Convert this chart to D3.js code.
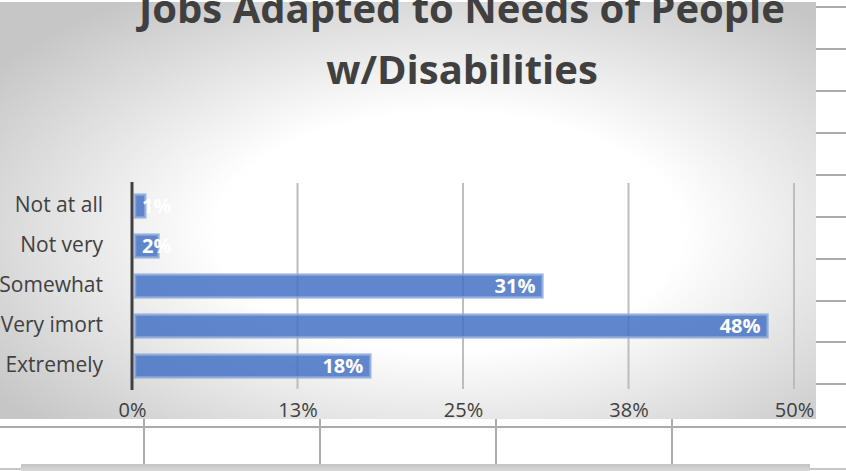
<!DOCTYPE html>
<html>
<head>
<meta charset="utf-8">
<script src="https://cdn.jsdelivr.net/npm/d3@7"></script>
<style>
  html, body { margin: 0; padding: 0; background: #ffffff; }
  svg { display: block; }
  text { font-family: "Open Sans", "Noto Sans", sans-serif; }
</style>
</head>
<body>
<svg id="chart" width="846" height="471"></svg>
<script>
// ---- data ----
const categories = ["Not at all", "Not very", "Somewhat", "Very imort", "Extremely"];
const values = [0.01, 0.02, 0.31, 0.48, 0.18];
const tickValues = [0, 0.125, 0.25, 0.375, 0.5];
const tickLabels = ["0%", "13%", "25%", "38%", "50%"];
const titleLines = ["Jobs Adapted to Needs of People", "w/Disabilities"];

const svg = d3.select("#chart");
const W = 846, H = 471;

// ---- spreadsheet grid behind the chart ----
const gridColor = "#ababab";
const sheetRows = [7, 49, 91, 133, 175, 217, 259, 301, 342, 384];
svg.selectAll("line.sheetRow").data(sheetRows).join("line")
  .attr("x1", 816).attr("x2", W).attr("y1", d => d).attr("y2", d => d)
  .attr("stroke", gridColor).attr("stroke-width", 2);
svg.append("line").attr("x1", 0).attr("x2", W).attr("y1", 427).attr("y2", 427)
  .attr("stroke", gridColor).attr("stroke-width", 2);
const sheetCols = [144, 320, 496, 672];
svg.selectAll("line.sheetCol").data(sheetCols).join("line")
  .attr("x1", d => d).attr("x2", d => d).attr("y1", 419).attr("y2", 465)
  .attr("stroke", gridColor).attr("stroke-width", 2);
svg.append("line").attr("x1", 0).attr("x2", W).attr("y1", 469).attr("y2", 469)
  .attr("stroke", "#b5b5b5").attr("stroke-width", 1.5);

const defs = svg.append("defs");
const sb = defs.append("linearGradient").attr("id", "sb").attr("x1", 0).attr("x2", 0).attr("y1", 0).attr("y2", 1);
sb.append("stop").attr("offset", 0).attr("stop-color", "#c4c4c4");
sb.append("stop").attr("offset", 1).attr("stop-color", "#d8d8d8");
svg.append("rect").attr("x", 21).attr("y", 464).attr("width", 789).attr("height", 7).attr("fill", "url(#sb)");

// ---- chart area background ----
const rg = defs.append("radialGradient").attr("id", "bg")
  .attr("cx", "55%").attr("cy", "55%").attr("r", "68%");
rg.append("stop").attr("offset", 0).attr("stop-color", "#ffffff");
rg.append("stop").attr("offset", 0.42).attr("stop-color", "#ffffff");
rg.append("stop").attr("offset", 1).attr("stop-color", "#c6c6c6");
svg.append("rect").attr("x", 0).attr("y", 2).attr("width", 816).attr("height", 417)
  .attr("fill", "url(#bg)");

// ---- scales ----
const x = d3.scaleLinear().domain([0, 0.5]).range([132, 794]);
const y = d3.scaleBand().domain(categories).range([186, 386])
  .paddingInner(0.43).paddingOuter(0.215);

// gridlines
svg.selectAll("line.grid").data(tickValues.slice(1)).join("line")
  .attr("class", "grid")
  .attr("x1", d => x(d)).attr("x2", d => x(d)).attr("y1", 183).attr("y2", 389)
  .attr("stroke", "#bdbdbd").attr("stroke-width", 2);

// x axis tick labels
const xAxis = d3.axisBottom(x).tickValues(tickValues)
  .tickFormat((d, i) => tickLabels[i]).tickSize(0).tickPadding(0);
const gx = svg.append("g").attr("transform", "translate(0,399)").call(xAxis);
gx.select(".domain").remove();
gx.selectAll("text").attr("font-size", 20).attr("fill", "#404040")
  .attr("font-family", "'Open Sans', sans-serif").attr("dy", "0.9em");

// y axis labels
const yAxis = d3.axisLeft(y).tickSize(0).tickPadding(0);
const gy = svg.append("g").attr("transform", "translate(103,0)").call(yAxis);
gy.select(".domain").remove();
gy.selectAll("text").attr("font-size", 21).attr("fill", "#404040")
  .attr("font-family", "'Open Sans', sans-serif").attr("dy", "0.3em");

// bars
svg.selectAll("rect.bar").data(values).join("rect")
  .attr("class", "bar")
  .attr("x", x(0) + 3)
  .attr("y", (d, i) => y(categories[i]))
  .attr("width", d => x(d) - x(0) - 3)
  .attr("height", y.bandwidth())
  .attr("fill", "#4472c4").attr("fill-opacity", 0.85)
  .attr("stroke", "#8eaadb").attr("stroke-opacity", 0.8).attr("stroke-width", 2.5);

// axis line
svg.append("line").attr("x1", x(0)).attr("x2", x(0)).attr("y1", 182).attr("y2", 390)
  .attr("stroke", "#404040").attr("stroke-width", 3);

// data labels
const labels = svg.selectAll("text.lbl").data(values).join("text")
  .attr("class", "lbl")
  .attr("y", (d, i) => y(categories[i]) + y.bandwidth() / 2)
  .attr("dy", "0.36em")
  .attr("text-anchor", "end")
  .attr("font-size", 20).attr("font-weight", "bold").attr("fill", "#ffffff")
  .text(d => d3.format(".0%")(d));
labels.attr("x", function(d) {
  const w = this.getComputedTextLength();
  return Math.max(x(d) - 7, x(0) + 10 + w);
});

// title
svg.selectAll("text.title").data(titleLines).join("text")
  .attr("class", "title")
  .attr("x", 462).attr("y", (d, i) => 23 + i * 61)
  .attr("text-anchor", "middle")
  .attr("font-size", 40).attr("font-weight", "bold").attr("fill", "#404040")
  .text(d => d);
</script>
</body>
</html>
